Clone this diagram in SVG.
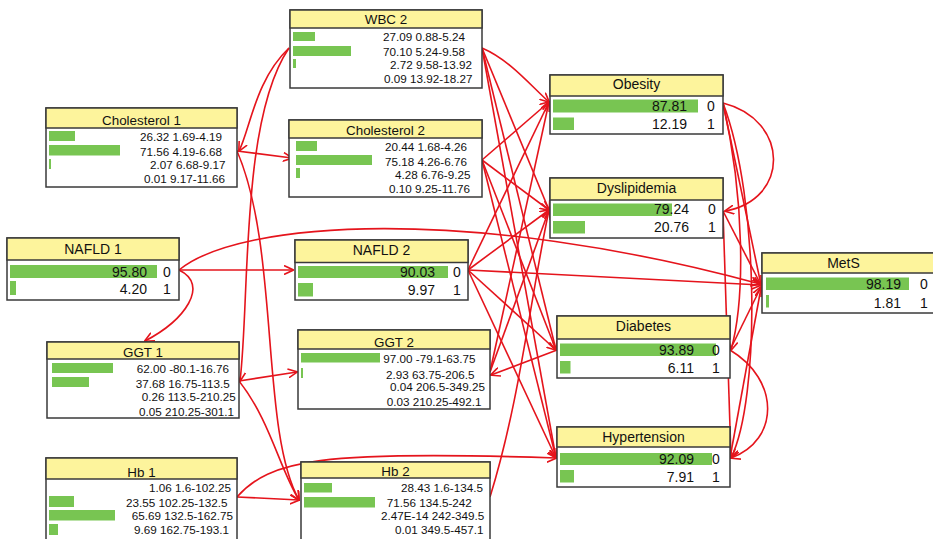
<svg xmlns="http://www.w3.org/2000/svg" width="933" height="539" viewBox="0 0 933 539">
<style>
.box{fill:#fff;stroke:#3a3a3a;stroke-width:1.5}
.hdr{fill:#fdf49c;stroke:#3a3a3a;stroke-width:1.5}
.bar{fill:#78c552}
.tt{font-family:"Liberation Sans",Arial,sans-serif;font-size:13.4px;fill:#111;text-anchor:middle}
.tt2{font-family:"Liberation Sans",Arial,sans-serif;font-size:14px;fill:#111;text-anchor:middle}
.r{font-family:"Liberation Sans",Arial,sans-serif;font-size:11.7px;fill:#111}
.v{font-family:"Liberation Sans",Arial,sans-serif;font-size:14px;fill:#111;text-anchor:end}
.s{font-family:"Liberation Sans",Arial,sans-serif;font-size:14px;fill:#111}
.ln{fill:none;stroke:#e5141c;stroke-width:1.6;marker-end:url(#ah)}
</style>
<defs>
<marker id="ah" viewBox="0 0 10 10" refX="9" refY="5" markerWidth="10" markerHeight="10" markerUnits="userSpaceOnUse" orient="auto">
<path d="M0,0.5 L9.5,5 L0,9.5" fill="none" stroke="#e5141c" stroke-width="1.6"/>
</marker>
</defs>
<rect width="933" height="539" fill="#fff"/>
<g id="connectors">
<path class="ln" d="M237,151 L292,158"/>
<path class="ln" d="M179,270 L293,270"/>
<path class="ln" d="M179,270 C210,285 185,320 145,341"/>
<path class="ln" d="M179,270 C240,220 470,205 760,284"/>
<path class="ln" d="M289,48 C255,80 250,130 239,151"/>
<path class="ln" d="M289,48 C240,120 250,300 240,381"/>
<path class="ln" d="M237,151 C280,250 260,430 299,500"/>
<path class="ln" d="M239,381 L297,372"/>
<path class="ln" d="M239,381 C270,420 280,470 299,500"/>
<path class="ln" d="M237,497 L299,500"/>
<path class="ln" d="M237,497 C270,460 320,450 556,458"/>
<path class="ln" d="M482,48 C510,60 530,85 549,102"/>
<path class="ln" d="M482,48 L549,210"/>
<path class="ln" d="M482,48 L556,350"/>
<path class="ln" d="M482,48 L556,458"/>
<path class="ln" d="M482,160 L549,102"/>
<path class="ln" d="M482,160 L549,210"/>
<path class="ln" d="M482,160 L556,350"/>
<path class="ln" d="M482,160 L556,458"/>
<path class="ln" d="M468,270 L549,102"/>
<path class="ln" d="M468,270 L549,210"/>
<path class="ln" d="M468,270 L556,350"/>
<path class="ln" d="M468,270 L556,458"/>
<path class="ln" d="M468,270 L761,285"/>
<path class="ln" d="M490,372 L549,102"/>
<path class="ln" d="M490,372 L549,210"/>
<path class="ln" d="M557,350 L491,375"/>
<path class="ln" d="M490,497 C520,400 530,300 549,210"/>
<path class="ln" d="M723,103 L761,285"/>
<path class="ln" d="M723,103 C790,120 790,200 725,211"/>
<path class="ln" d="M723,103 C745,200 745,300 731,350"/>
<path class="ln" d="M723,103 C760,200 760,400 731,458"/>
<path class="ln" d="M723,211 L761,285"/>
<path class="ln" d="M723,211 L731,458"/>
<path class="ln" d="M730,350 L761,287"/>
<path class="ln" d="M730,350 C780,380 780,440 731,458"/>
<path class="ln" d="M730,458 L761,288"/>
</g>
<g id="wbc2">
<rect class="box" x="290" y="10" width="192" height="78"/>
<rect class="hdr" x="290" y="10" width="192" height="18"/>
<text class="tt" x="386" y="24">WBC 2</text>
<rect class="bar" x="293" y="32" width="22" height="9"/>
<rect class="bar" x="293" y="46" width="58" height="10"/>
<rect class="bar" x="293" y="59" width="3" height="9"/>
<text class="r" x="383" y="41">27.09 0.88-5.24</text>
<text class="r" x="383" y="55.5">70.10 5.24-9.58</text>
<text class="r" x="390" y="69">2.72 9.58-13.92</text>
<text class="r" x="384" y="83">0.09 13.92-18.27</text>
</g>
<g id="cholesterol1">
<rect class="box" x="46" y="108" width="191" height="79"/>
<rect class="hdr" x="46" y="108" width="191" height="20"/>
<text class="tt" x="141.5" y="125">Cholesterol 1</text>
<rect class="bar" x="49" y="131" width="26" height="10"/>
<rect class="bar" x="49" y="145" width="71" height="10.5"/>
<rect class="bar" x="49" y="159" width="2" height="10"/>
<text class="r" x="140" y="141">26.32 1.69-4.19</text>
<text class="r" x="140" y="155.5">71.56 4.19-6.68</text>
<text class="r" x="150" y="169">2.07 6.68-9.17</text>
<text class="r" x="144" y="183">0.01 9.17-11.66</text>
</g>
<g id="cholesterol2">
<rect class="box" x="289" y="120" width="193" height="77"/>
<rect class="hdr" x="289" y="120" width="193" height="18"/>
<text class="tt" x="385.5" y="134.5">Cholesterol 2</text>
<rect class="bar" x="296" y="141" width="21" height="10"/>
<rect class="bar" x="296" y="155" width="76" height="10"/>
<rect class="bar" x="296" y="168" width="4" height="10"/>
<text class="r" x="385" y="151">20.44 1.68-4.26</text>
<text class="r" x="385" y="165.5">75.18 4.26-6.76</text>
<text class="r" x="395" y="179">4.28 6.76-9.25</text>
<text class="r" x="389" y="193">0.10 9.25-11.76</text>
</g>
<g id="nafld1">
<rect class="box" x="7" y="238" width="172" height="62"/>
<rect class="hdr" x="7" y="238" width="172" height="22"/>
<text class="tt2" x="93" y="253.5">NAFLD 1</text>
<rect class="bar" x="10" y="265" width="147" height="13"/>
<rect class="bar" x="10" y="281" width="6" height="14"/>
<text class="v" x="147" y="277">95.80</text>
<text class="s" x="163" y="277">0</text>
<text class="v" x="147" y="294">4.20</text>
<text class="s" x="163" y="294">1</text>
</g>
<g id="nafld2">
<rect class="box" x="295" y="240" width="173" height="60"/>
<rect class="hdr" x="295" y="240" width="173" height="22.5"/>
<text class="tt2" x="381.5" y="255">NAFLD 2</text>
<rect class="bar" x="298" y="266" width="150" height="12"/>
<rect class="bar" x="298" y="283" width="15" height="13.5"/>
<text class="v" x="435" y="277">90.03</text>
<text class="s" x="453" y="277">0</text>
<text class="v" x="435" y="295">9.97</text>
<text class="s" x="453" y="295">1</text>
</g>
<g id="ggt1">
<rect class="box" x="47" y="342" width="192" height="76"/>
<rect class="hdr" x="47" y="342" width="192" height="17"/>
<text class="tt" x="143" y="356.5">GGT 1</text>
<rect class="bar" x="52" y="363" width="61" height="10"/>
<rect class="bar" x="52" y="377" width="37" height="10"/>
<text class="r" x="136.7" y="372.7">62.00 -80.1-16.76</text>
<text class="r" x="135.7" y="388">37.68 16.75-113.5</text>
<text class="r" x="141.7" y="401">0.26 113.5-210.25</text>
<text class="r" x="139" y="415.5">0.05 210.25-301.1</text>
</g>
<g id="ggt2">
<rect class="box" x="298" y="330" width="192" height="79"/>
<rect class="hdr" x="298" y="330" width="192" height="19"/>
<text class="tt" x="394" y="347">GGT 2</text>
<rect class="bar" x="301" y="353" width="79" height="9.5"/>
<rect class="bar" x="301" y="368" width="2" height="10"/>
<text class="r" x="383.3" y="362.7">97.00 -79.1-63.75</text>
<text class="r" x="386" y="379">2.93 63.75-206.5</text>
<text class="r" x="390" y="391">0.04 206.5-349.25</text>
<text class="r" x="386.7" y="406">0.03 210.25-492.1</text>
</g>
<g id="hb1">
<rect class="box" x="46" y="458" width="191" height="84"/>
<rect class="hdr" x="46" y="458" width="191" height="21"/>
<text class="tt" x="141.5" y="476.5">Hb 1</text>
<rect class="bar" x="49" y="496" width="25" height="11"/>
<rect class="bar" x="49" y="510" width="66" height="10.5"/>
<rect class="bar" x="49" y="524" width="9" height="11"/>
<text class="r" x="149" y="491.7">1.06 1.6-102.25</text>
<text class="r" x="126" y="506.7">23.55 102.25-132.5</text>
<text class="r" x="131.7" y="520">65.69 132.5-162.75</text>
<text class="r" x="134" y="534">9.69 162.75-193.1</text>
</g>
<g id="hb2">
<rect class="box" x="301" y="462" width="189" height="80"/>
<rect class="hdr" x="301" y="462" width="189" height="16"/>
<text class="tt" x="395.5" y="475.5">Hb 2</text>
<rect class="bar" x="304" y="483" width="28" height="9.5"/>
<rect class="bar" x="304" y="497" width="71" height="10.5"/>
<text class="r" x="401" y="491.7">28.43 1.6-134.5</text>
<text class="r" x="386.7" y="506.7">71.56 134.5-242</text>
<text class="r" x="381" y="520">2.47E-14 242-349.5</text>
<text class="r" x="395" y="534">0.01 349.5-457.1</text>
</g>
<g id="obesity">
<rect class="box" x="550" y="75" width="173" height="59"/>
<rect class="hdr" x="550" y="75" width="173" height="21"/>
<text class="tt2" x="636.5" y="89">Obesity</text>
<rect class="bar" x="553" y="99.5" width="145" height="13"/>
<rect class="bar" x="553" y="117.5" width="21" height="12.5"/>
<text class="v" x="687" y="111">87.81</text>
<text class="s" x="707" y="111">0</text>
<text class="v" x="687" y="129">12.19</text>
<text class="s" x="707" y="129">1</text>
</g>
<g id="dyslipidemia">
<rect class="box" x="550" y="178" width="173" height="60"/>
<rect class="hdr" x="550" y="178" width="173" height="22"/>
<text class="tt2" x="636.5" y="192.5">Dyslipidemia</text>
<rect class="bar" x="553" y="203.5" width="119" height="12.5"/>
<rect class="bar" x="553" y="221" width="32" height="12.5"/>
<text class="v" x="689" y="214">79.24</text>
<text class="s" x="708" y="214">0</text>
<text class="v" x="689" y="231.5">20.76</text>
<text class="s" x="708" y="231.5">1</text>
</g>
<g id="diabetes">
<rect class="box" x="557" y="316" width="173" height="62"/>
<rect class="hdr" x="557" y="316" width="173" height="23"/>
<text class="tt2" x="643.5" y="331">Diabetes</text>
<rect class="bar" x="560" y="343.5" width="156" height="12.5"/>
<rect class="bar" x="560" y="361" width="10.5" height="12.5"/>
<text class="v" x="694" y="354.5">93.89</text>
<text class="s" x="712" y="354.5">0</text>
<text class="v" x="694" y="372.5">6.11</text>
<text class="s" x="712" y="372.5">1</text>
</g>
<g id="hypertension">
<rect class="box" x="557" y="427" width="173" height="60"/>
<rect class="hdr" x="557" y="427" width="173" height="20"/>
<text class="tt2" x="643.5" y="442">Hypertension</text>
<rect class="bar" x="560" y="453" width="152" height="12"/>
<rect class="bar" x="560" y="470" width="14" height="12.5"/>
<text class="v" x="694" y="463.5">92.09</text>
<text class="s" x="712" y="463.5">0</text>
<text class="v" x="694" y="481.5">7.91</text>
<text class="s" x="712" y="481.5">1</text>
</g>
<g id="mets">
<rect class="box" x="762" y="253" width="174" height="60"/>
<rect class="hdr" x="762" y="253" width="174" height="20"/>
<text class="tt2" x="843.5" y="268">MetS</text>
<rect class="bar" x="766" y="277.5" width="143" height="12.5"/>
<rect class="bar" x="766" y="295" width="3" height="12.5"/>
<text class="v" x="901" y="289">98.19</text>
<text class="s" x="920" y="289">0</text>
<text class="v" x="901" y="307.5">1.81</text>
<text class="s" x="920" y="307.5">1</text>
</g>
</svg>
